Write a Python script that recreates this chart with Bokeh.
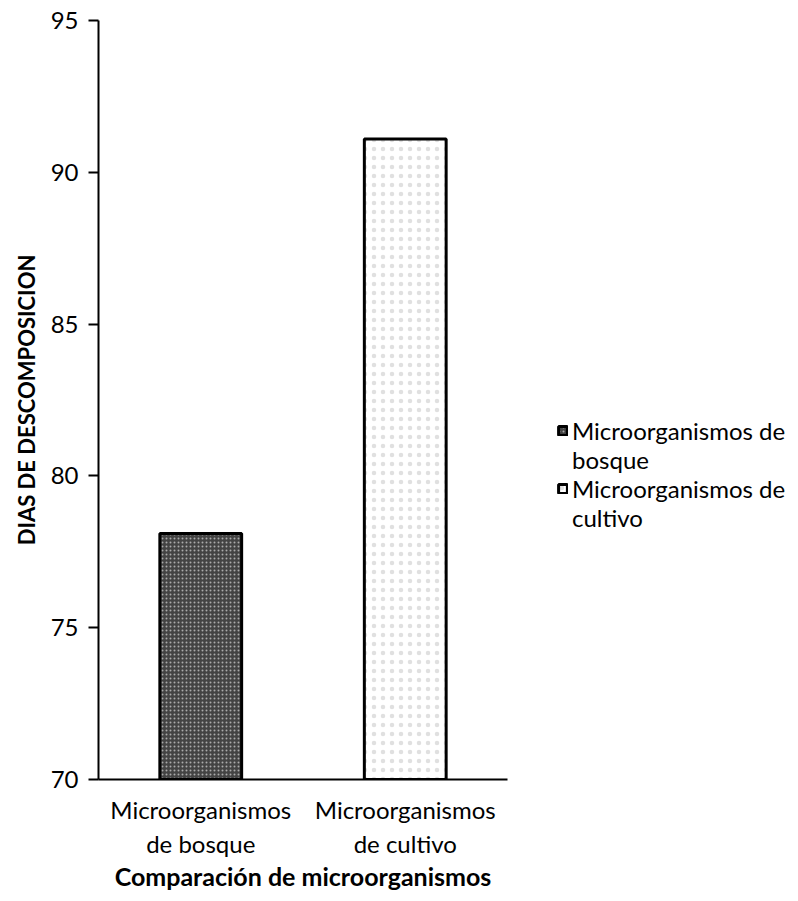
from bokeh.plotting import figure
from bokeh.models import FactorRange, Range1d, Legend, LegendItem, FixedTicker
from bokeh.embed import file_html
from bokeh.resources import INLINE

# Data
categories = ["Microorganismos\nde bosque", "Microorganismos\nde cultivo"]
series_first_line = ["Microorganismos de", "Microorganismos de"]
series_second_line = ["bosque", "cultivo"]
dias = [78.1, 91.1]
y_ticks = [70, 75, 80, 85, 90, 95]

FONT = "Lato"

p = figure(
    frame_width=409, frame_height=759,
    x_range=FactorRange(factors=categories, range_padding=0),
    y_range=Range1d(y_ticks[0], y_ticks[-1]),
    output_backend="svg", toolbar_location=None,
    min_border_left=98, min_border_right=291,
    min_border_top=20, min_border_bottom=122,
)
p.outline_line_color = None
p.grid.visible = False
p.background_fill_color = "white"
p.border_fill_color = "white"

# Bars
styles = [
    dict(fill_color="#434343", hatch_pattern=".", hatch_color="white",
         hatch_scale=4, hatch_weight=1, hatch_alpha=0.55),
    dict(fill_color="white", hatch_pattern=".", hatch_color="#bbbbbb",
         hatch_scale=9, hatch_weight=0.5, hatch_alpha=0.45),
]
renderers = []
for cat, val, st in zip(categories, dias, styles):
    r = p.vbar(x=[cat], top=[val], bottom=y_ticks[0], width=0.4,
               line_color="black", line_width=3, **st)
    renderers.append(r)

# Blank renderer so each legend entry can wrap onto a second line
blank = p.vbar(x=[], top=[], width=0.4, fill_alpha=0, line_alpha=0)

# Y axis
ya = p.yaxis[0]
ya.ticker = FixedTicker(ticks=y_ticks)
ya.axis_line_width = 2
ya.axis_line_color = "black"
ya.major_tick_line_width = 2
ya.major_tick_in = 0
ya.major_tick_out = 10
ya.minor_tick_line_color = None
ya.major_label_standoff = 10
ya.major_label_text_font = FONT
ya.major_label_text_font_size = "24px"
ya.major_label_text_color = "black"
ya.axis_label = "DIAS DE DESCOMPOSICION"
ya.axis_label_text_font = FONT
ya.axis_label_text_font_style = "bold"
ya.axis_label_text_font_size = "22px"
ya.axis_label_text_color = "black"
ya.axis_label_standoff = 8

# X axis
xa = p.xaxis[0]
xa.axis_line_width = 2
xa.axis_line_color = "black"
xa.major_tick_line_color = None
xa.minor_tick_line_color = None
xa.major_label_standoff = 9
xa.major_label_text_font = FONT
xa.major_label_text_font_size = "24px"
xa.major_label_text_color = "black"
xa.axis_label = "Comparación de microorganismos"
xa.axis_label_text_font = FONT
xa.axis_label_text_font_style = "bold"
xa.axis_label_text_font_size = "25px"
xa.axis_label_text_color = "black"
xa.axis_label_standoff = 0

# Legend in the right-hand panel
items = []
for first, second, r in zip(series_first_line, series_second_line, renderers):
    items.append(LegendItem(label=first, renderers=[r]))
    items.append(LegendItem(label=second, renderers=[blank]))

legend = Legend(
    items=items,
    location=(50, 247),
    glyph_width=11, glyph_height=11,
    label_text_font=FONT, label_text_font_size="24px", label_text_color="black",
    label_text_line_height=1.0, label_height=24,
    label_standoff=4, spacing=0, padding=0, margin=0,
    border_line_color=None, background_fill_alpha=0,
)
p.add_layout(legend, "right")

open("out.html", "w").write(file_html(p, INLINE))
